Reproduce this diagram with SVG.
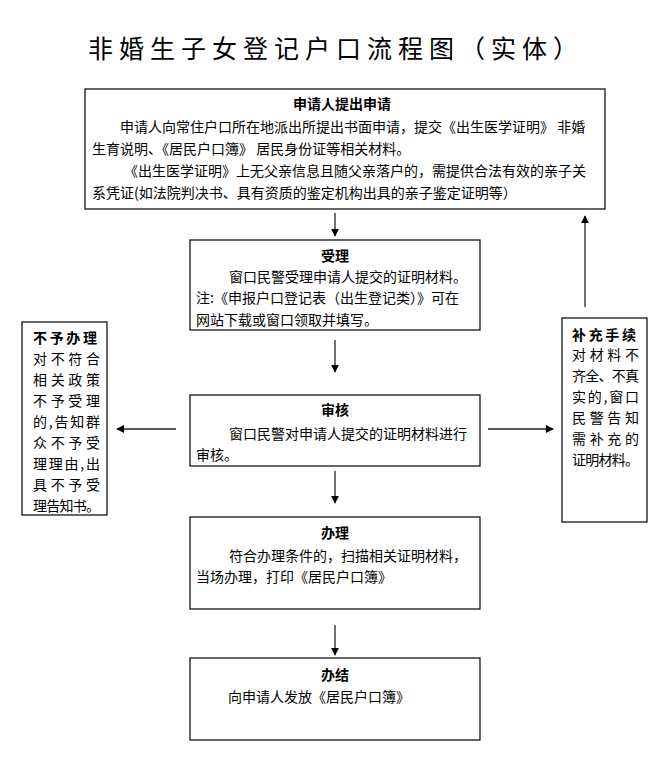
<svg xmlns="http://www.w3.org/2000/svg" width="667" height="768" viewBox="0 0 667 768">
<style>
.box{fill:#fff;stroke:#000;stroke-width:1.2}
.t{font-family:"Noto Sans CJK SC","Noto Sans",sans-serif;font-size:14px;fill:#000}
.b{font-weight:bold;text-anchor:middle}
.ttl{font-family:"Noto Sans CJK SC",sans-serif;font-size:25px;fill:#000}
.c{stroke:#222;stroke-width:1.3;fill:none}
</style>
<defs>
<marker id="ah" viewBox="0 0 10 10" refX="9" refY="5" markerWidth="8" markerHeight="8" markerUnits="userSpaceOnUse" orient="auto">
<path d="M0,0 L10,5 L0,10 z" fill="#000"/>
</marker>
</defs>
<rect width="667" height="768" fill="#fff"/>
<text class="ttl" x="88" y="58" textLength="490" lengthAdjust="spacing">非婚生子女登记户口流程图（实体）</text>

<g id="connectors">
<line class="c" x1="335" y1="213" x2="335" y2="236" marker-end="url(#ah)"/>
<line class="c" x1="335" y1="340" x2="335" y2="372" marker-end="url(#ah)"/>
<line class="c" x1="335" y1="471" x2="335" y2="503" marker-end="url(#ah)"/>
<line class="c" x1="335" y1="625" x2="335" y2="655" marker-end="url(#ah)"/>
<line class="c" x1="176" y1="429" x2="117" y2="429" marker-end="url(#ah)"/>
<line class="c" x1="488" y1="429" x2="553" y2="429" marker-end="url(#ah)"/>
<line class="c" x1="585" y1="307" x2="585" y2="216" marker-end="url(#ah)"/>
</g>

<g id="apply">
<rect class="box" x="85" y="89" width="520" height="120"/>
<text class="t b" x="342" y="109">申请人提出申请</text>
<text class="t" x="120" y="132">申请人向常住户口所在地派出所提出书面申请，提交《出生医学证明》 非婚</text>
<text class="t" x="92" y="154">生育说明、《居民户口簿》 居民身份证等相关材料。</text>
<text class="t" x="124" y="176">《出生医学证明》上无父亲信息且随父亲落户的，需提供合法有效的亲子关</text>
<text class="t" x="92" y="198">系凭证(如法院判决书、具有资质的鉴定机构出具的亲子鉴定证明等）</text>
</g>

<g id="accept">
<rect class="box" x="190" y="240" width="290" height="90"/>
<text class="t b" x="335" y="261">受理</text>
<text class="t" x="229" y="282">窗口民警受理申请人提交的证明材料。</text>
<text class="t" x="196" y="303">注:《申报户口登记表（出生登记类）》可在</text>
<text class="t" x="196" y="325">网站下载或窗口领取并填写。</text>
</g>

<g id="review">
<rect class="box" x="190" y="395" width="290" height="71"/>
<text class="t b" x="335" y="415">审核</text>
<text class="t" x="229" y="439">窗口民警对申请人提交的证明材料进行</text>
<text class="t" x="196" y="460">审核。</text>
</g>

<g id="process">
<rect class="box" x="190" y="517" width="290" height="92"/>
<text class="t b" x="335" y="538">办理</text>
<text class="t" x="229" y="561">符合办理条件的，扫描相关证明材料，</text>
<text class="t" x="196" y="582">当场办理，打印《居民户口簿》</text>
</g>

<g id="finish">
<rect class="box" x="190" y="658" width="290" height="82"/>
<text class="t b" x="335" y="680">办结</text>
<text class="t" x="228" y="702">向申请人发放《居民户口簿》</text>
</g>

<g id="reject">
<rect class="box" x="22" y="322" width="85" height="193"/>
<text class="t" x="33" y="343" font-weight="bold" textLength="64" lengthAdjust="spacing">不予办理</text>
<text class="t" x="33" y="364" textLength="67" lengthAdjust="spacing">对不符合</text>
<text class="t" x="33" y="385" textLength="67" lengthAdjust="spacing">相关政策</text>
<text class="t" x="33" y="406" textLength="67" lengthAdjust="spacing">不予受理</text>
<text class="t" x="33" y="427" textLength="67" lengthAdjust="spacing">的,告知群</text>
<text class="t" x="33" y="448" textLength="67" lengthAdjust="spacing">众不予受</text>
<text class="t" x="33" y="469" textLength="67" lengthAdjust="spacing">理理由,出</text>
<text class="t" x="33" y="490" textLength="67" lengthAdjust="spacing">具不予受</text>
<text class="t" x="33" y="511" textLength="67" lengthAdjust="spacing">理告知书。</text>
</g>

<g id="supplement">
<rect class="box" x="562" y="318" width="85" height="204"/>
<text class="t" x="572" y="340" font-weight="bold" textLength="64" lengthAdjust="spacing">补充手续</text>
<text class="t" x="572" y="360" textLength="67" lengthAdjust="spacing">对材料不</text>
<text class="t" x="572" y="381" textLength="67" lengthAdjust="spacing">齐全、不真</text>
<text class="t" x="572" y="402" textLength="67" lengthAdjust="spacing">实的,窗口</text>
<text class="t" x="572" y="423" textLength="67" lengthAdjust="spacing">民警告知</text>
<text class="t" x="572" y="444" textLength="67" lengthAdjust="spacing">需补充的</text>
<text class="t" x="572" y="465" textLength="67" lengthAdjust="spacing">证明材料。</text>
</g>
</svg>
